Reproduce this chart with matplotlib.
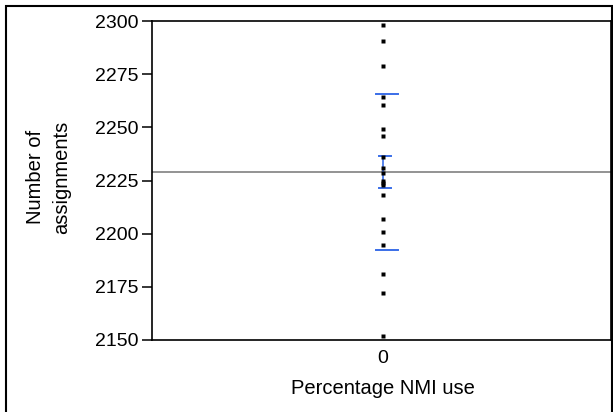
import matplotlib
matplotlib.use('Agg')
import matplotlib.pyplot as plt
from matplotlib.patches import Rectangle

plt.rc('font', family=['Liberation Sans', 'DejaVu Sans'], size=14)

# values
assignments = [2298, 2290.6, 2279, 2264.4, 2260.6, 2249.4, 2246, 2236, 2231,
               2228.6, 2225, 2224, 2223, 2218.4, 2206.7, 2200.8, 2194.5,
               2181, 2172, 2152]
group = 0
mean_val = 2229
sd_lines = [2192.3, 2265.5]
se_lines = [2221.3, 2236.4]

W, H = 613, 412
fig = plt.figure(figsize=(W / 100, H / 100), dpi=100)
ax = fig.add_axes([152 / W, 1 - 340 / H, (611 - 152) / W, (340 - 21) / H])

# grand mean across the plot
ax.axhline(mean_val, color='#808080', lw=1.2, zorder=1)

# points
ax.plot([group] * len(assignments), assignments, 's', color='black',
        ms=2.6, mec='none', zorder=3)

# std dev lines
for v in sd_lines:
    ax.plot([group - 0.016, group + 0.032], [v, v], color='#3a6ee8', lw=1.4, zorder=2)
# std error bars
for v in se_lines:
    ax.plot([group - 0.009, group + 0.017], [v, v], color='#3a6ee8', lw=1.4, zorder=2)
ax.plot([group, group], se_lines, color='#3a6ee8', lw=1.2, zorder=2)

ax.set_ylim(2150, 2300)
ax.set_xlim(-0.5033, 0.4967)
ax.set_yticks([2150, 2175, 2200, 2225, 2250, 2275, 2300])
ax.set_xticks([group], ['0'])
ax.tick_params(axis='y', length=7.5, width=1.1, direction='out', pad=2)
ax.tick_params(axis='x', length=0, pad=7)
for s in ax.spines.values():
    s.set_linewidth(1.2)

ax.set_xlabel('Percentage NMI use', fontsize=14.5, va='center')
ax.xaxis.set_label_coords(0.503, -0.152)
ax.set_ylabel('Number of\nassignments', fontsize=14.5, linespacing=1.5,
              ha='center', va='center')
ax.yaxis.set_label_coords(-0.225, 0.51)

# outer frame
fig.add_artist(Rectangle((6 / W, -0.1), (612 - 6) / W, 1.1 - 5.5 / H,
                         transform=fig.transFigure, fill=False,
                         lw=1.5, ec='black'))

fig.savefig('out.png', dpi=100)
